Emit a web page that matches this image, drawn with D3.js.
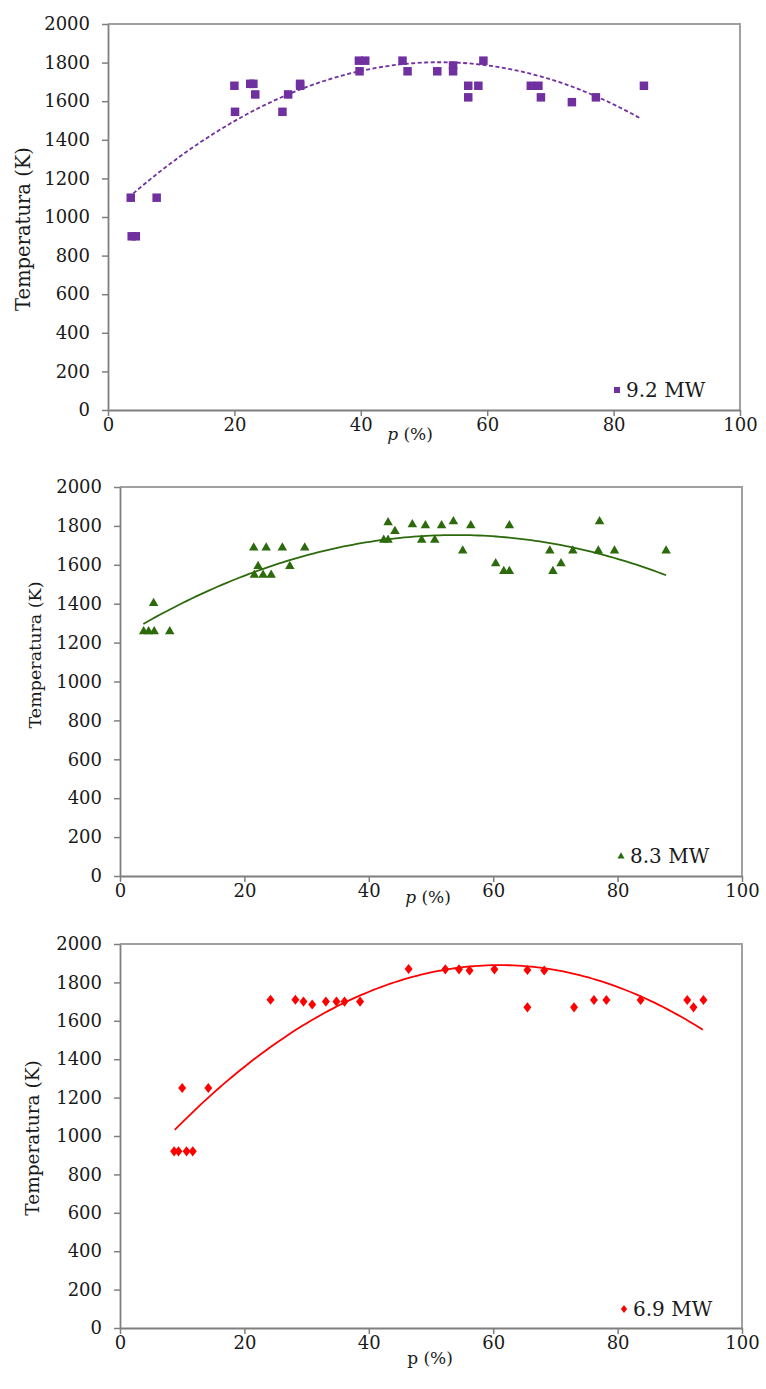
<!DOCTYPE html>
<html><head><meta charset="utf-8">
<script src="https://cdn.jsdelivr.net/npm/d3@7"></script>
<style>
html,body{margin:0;padding:0;background:#fff;}
svg{display:block;}
text{font-family:"DejaVu Serif","Liberation Serif",serif;fill:#1a1a1a;}
</style></head>
<body>
<svg id="c" width="766" height="1389"></svg>
<script>
// ---------- DATA ----------
const yTicks = [0,200,400,600,800,1000,1200,1400,1600,1800,2000];
const xTicks = [0,20,40,60,80,100];

// Panel 1: 9.2 MW
const p1 = [3.6,7.7,3.75,4.4,20.0,20.1,22.5,23.0,23.3,27.6,28.5,30.4,30.4,39.7,40.7,39.8,46.6,47.4,52.1,54.6,54.6,59.4,57.0,58.6,57.0,66.9,68.1,68.5,73.4,77.2,84.8];
const t1 = [1100,1100,900,900,1680,1545,1690,1690,1635,1545,1635,1690,1680,1810,1810,1755,1810,1755,1755,1785,1755,1810,1680,1680,1620,1680,1680,1620,1595,1620,1680];
const trend1 = [1005.4, 30.345, -0.289];   // quadratic trendline coefficients
const trendRange1 = [4.0, 84.4];

// Panel 2: 8.3 MW
const p2 = [3.8,4.6,5.5,8.0,5.4,21.5,23.5,26.1,29.7,22.2,21.6,23.0,24.3,27.3,43.1,44.2,42.4,43.1,47.0,49.1,48.5,50.6,51.7,53.6,56.4,55.1,62.6,60.4,61.7,62.6,69.1,70.9,69.6,72.8,77.1,76.9,79.5,87.8];
const t2 = [1260,1260,1260,1260,1405,1690,1690,1690,1690,1595,1550,1550,1550,1595,1820,1775,1730,1730,1810,1805,1730,1730,1805,1825,1805,1675,1805,1610,1570,1570,1675,1610,1570,1675,1825,1675,1675,1675];
const trend2 = [1225.2, 19.548, -0.181];
const trendRange2 = [3.75, 87.8];

// Panel 3: 6.9 MW
const p3 = [8.7,9.4,10.7,11.7,10.0,14.2,24.2,28.2,29.5,30.9,33.1,34.8,36.1,38.6,46.4,52.3,54.5,56.2,60.2,65.5,65.5,68.2,73.0,76.2,78.2,83.7,91.2,92.2,93.8];
const t3 = [920,920,920,920,1250,1250,1710,1710,1700,1685,1700,1700,1700,1700,1870,1868,1868,1862,1868,1865,1670,1862,1670,1708,1708,1708,1708,1670,1708];
const trend3 = [717.9, 38.43, -0.315];
const trendRange3 = [8.8, 93.7];

const seriesNames = ["9.2 MW","8.3 MW","6.9 MW"];

// ---------- LAYOUT ----------
const panels = [
  {xs:p1, ts:t1, trend:trend1, range:trendRange1, name:seriesNames[0], color:"#7030a0",
   left:108, right:740, top:24, bottom:410, shape:"square", dash:"4,2.5",
   legend:[617,390], ytitle:[23,229], ytsize:19.5, xtitle:[410,434], italicP:true},
  {xs:p2, ts:t2, trend:trend2, range:trendRange2, name:seriesNames[1], color:"#2d6a0c",
   left:120, right:742, top:487, bottom:876, shape:"triangle", dash:null,
   legend:[621,856], ytitle:[35,655], ytsize:17.5, xtitle:[428,897], italicP:true},
  {xs:p3, ts:t3, trend:trend3, range:trendRange3, name:seriesNames[2], color:"#ff0000",
   left:120, right:742, top:944, bottom:1328, shape:"diamond", dash:null,
   legend:[624,1309], ytitle:[33,1138], ytsize:18.5, xtitle:[430,1358], italicP:false}
];

const svg = d3.select("#c");

function shapePath(shape, s){
  if(shape==="square") return `M${-s/2},${-s/2}h${s}v${s}h${-s}Z`;
  if(shape==="triangle"){ const h=s*0.87; return `M0,${-h*0.6}L${s/2},${h*0.4}L${-s/2},${h*0.4}Z`; }
  return `M0,${-s*0.56}L${s*0.44},0L0,${s*0.56}L${-s*0.44},0Z`;
}

panels.forEach(P=>{
  const x = d3.scaleLinear().domain([0,100]).range([P.left,P.right]);
  const y = d3.scaleLinear().domain([0,2000]).range([P.bottom,P.top]);
  const g = svg.append("g");

  // plot area frame (top/right)
  g.append("path")
    .attr("d",`M${P.left},${P.top}H${P.right}V${P.bottom}`)
    .attr("fill","none").attr("stroke","#a0a0a0").attr("stroke-width",2);

  const fmt = d3.format("d");
  const ya = g.append("g").attr("transform",`translate(${P.left},0)`)
    .call(d3.axisLeft(y).tickValues(yTicks).tickFormat(fmt).tickSize(6).tickPadding(12).tickSizeOuter(0));
  const xa = g.append("g").attr("transform",`translate(0,${P.bottom})`)
    .call(d3.axisBottom(x).tickValues(xTicks).tickFormat(fmt).tickSize(6).tickPadding(2).tickSizeOuter(0));
  [ya,xa].forEach(a=>{
    a.attr("font-family",null).attr("font-size",null);
    a.select(".domain").attr("stroke","#7f7f7f").attr("stroke-width",1.8);
    a.selectAll(".tick line").attr("stroke","#7f7f7f").attr("stroke-width",1.5);
    a.selectAll("text").style("font-family",'"DejaVu Serif",serif').style("font-size","18px").attr("fill","#1a1a1a");
  });

  // trendline
  const tx = d3.range(P.range[0], P.range[1]+0.001, (P.range[1]-P.range[0])/120);
  const fn = v => P.trend[0] + P.trend[1]*v + P.trend[2]*v*v;
  g.append("path")
    .datum(tx)
    .attr("d", d3.line().x(d=>x(d)).y(d=>y(fn(d))))
    .attr("fill","none").attr("stroke",P.color).attr("stroke-width",1.8)
    .attr("stroke-dasharray",P.dash);

  // points
  g.selectAll(".pt").data(P.xs.map((v,i)=>[v,P.ts[i]])).join("path")
    .attr("transform",d=>`translate(${x(d[0])},${y(d[1])})`)
    .attr("d",shapePath(P.shape, P.shape==="square"?8.5:(P.shape==="triangle"?9.5:9)))
    .attr("fill",P.color);

  // legend
  g.append("path").attr("transform",`translate(${P.legend[0]},${P.legend[1]})`)
    .attr("d",shapePath(P.shape, P.shape==="square"?6:7)).attr("fill",P.color);
  g.append("text").attr("x",P.legend[0]+9).attr("y",P.legend[1]).attr("dy","0.35em")
    .style("font-size","20px").text(P.name);

  // y title
  g.append("text").attr("transform",`translate(${P.ytitle[0]},${P.ytitle[1]}) rotate(-90)`)
    .attr("text-anchor","middle").attr("dy","0.35em").style("font-size",P.ytsize+"px")
    .text("Temperatura (K)");

  // x title
  const xt = g.append("text").attr("x",P.xtitle[0]).attr("y",P.xtitle[1]).attr("dy","0.35em")
    .attr("text-anchor","middle").style("font-size","17px");
  xt.append("tspan").style("font-style",P.italicP?"italic":"normal").text("p");
  xt.append("tspan").text(" (%)");
});
</script>
</body></html>
